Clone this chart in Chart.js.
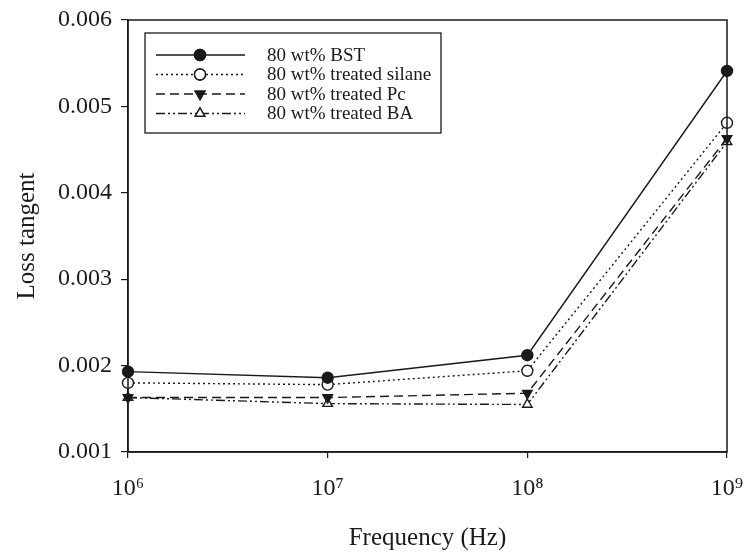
<!DOCTYPE html>
<html lang="en">

<head>
    <meta charset="UTF-8">
    <title>Loss tangent</title>
    <style>
        * {
            margin: 0;
            padding: 0;
        }

        body {
            background: #fff;
        }
    </style>
</head>

<body>
    <canvas id="myChart" width="747" height="553" style="width:747px;height:553px;"></canvas>
</body>
<script src="https://cdn.jsdelivr.net/npm/chart.js@4/dist/chart.umd.min.js"></script>

<script>
    const freq = [1e6, 1e7, 1e8, 1e9];
    const xTicks = ['10⁶', '10⁷', '10⁸', '10⁹'];
    const yTicks = [0.001, 0.002, 0.003, 0.004, 0.005, 0.006];

    const seriesNames = ['80 wt% BST', '80 wt% treated silane', '80 wt% treated Pc', '80 wt% treated BA'];
    const bst = [0.00193, 0.00186, 0.00212, 0.00541];
    const silane = [0.00180, 0.00178, 0.00194, 0.00481];
    const pc = [0.00163, 0.00163, 0.00168, 0.00463];
    const ba = [0.00163, 0.00156, 0.00155, 0.00459];

    const ink = '#1a1a1a';
    const serif = "'Liberation Serif', 'DejaVu Serif', serif";

    function pts(vals) {
        return vals.map((v, i) => ({ x: freq[i], y: v }));
    }

    // frame round the plot area + legend box with line samples
    const framePlugin = {
        id: 'frame',
        afterDatasetsDraw(chart) {
            const { ctx, chartArea: a } = chart;
            ctx.save();
            ctx.strokeStyle = ink;
            ctx.lineWidth = 1.5;
            ctx.strokeRect(a.left, a.top, a.right - a.left, a.bottom - a.top);

            const bx = 145, by = 33, bw = 296, bh = 100;
            ctx.lineWidth = 1.3;
            ctx.strokeRect(bx, by, bw, bh);
            ctx.font = '19px ' + serif;
            ctx.textBaseline = 'middle';
            chart.data.datasets.forEach((ds, i) => {
                const y = by + 22 + i * 19.5;
                ctx.strokeStyle = ds.borderColor;
                ctx.lineWidth = ds.borderWidth;
                ctx.setLineDash(ds.borderDash || []);
                ctx.beginPath();
                ctx.moveTo(bx + 11, y);
                ctx.lineTo(bx + 100, y);
                ctx.stroke();
                ctx.setLineDash([]);
                Chart.helpers.drawPoint(ctx, {
                    pointStyle: ds.pointStyle,
                    rotation: ds.pointRotation || 0,
                    radius: ds.pointRadius,
                    borderWidth: ds.pointBorderWidth
                }, bx + 55, y);
                ctx.fillStyle = ds.pointBackgroundColor;
                ctx.strokeStyle = ds.pointBorderColor;
                ctx.lineWidth = ds.pointBorderWidth;
                ctx.fill();
                ctx.stroke();
                ctx.fillStyle = ink;
                ctx.fillText(ds.label, bx + 122, y + 1);
            });
            ctx.restore();
        }
    };

    function series(label, vals, dash, style, fill, rot) {
        return {
            label: label,
            data: pts(vals),
            borderColor: ink,
            borderWidth: 1.4,
            borderDash: dash,
            pointStyle: style,
            pointRotation: rot || 0,
            pointRadius: 5.5,
            pointHoverRadius: 5.5,
            pointBackgroundColor: fill,
            pointBorderColor: ink,
            pointBorderWidth: 1.4,
            clip: false,
            tension: 0
        };
    }

    new Chart('myChart', {
        type: 'line',
        data: {
            datasets: [
                series(seriesNames[0], bst, [], 'circle', ink),
                series(seriesNames[1], silane, [2, 3], 'circle', '#fff'),
                series(seriesNames[2], pc, [9, 5], 'triangle', ink, 180),
                series(seriesNames[3], ba, [9, 3, 2, 3, 2, 3], 'triangle', '#fff')
            ]
        },
        options: {
            responsive: false,
            animation: false,
            layout: { padding: { top: 20, right: 20 } },
            plugins: {
                legend: { display: false },
                tooltip: { enabled: false }
            },
            scales: {
                x: {
                    type: 'logarithmic',
                    min: 1e6,
                    max: 1e9,
                    afterBuildTicks(scale) {
                        scale.ticks = freq.map(v => ({ value: v }));
                    },
                    afterFit(scale) {
                        scale.height = 101;
                        scale.paddingLeft = 0;
                        scale.paddingRight = 0;
                    },
                    border: { display: true, color: ink, width: 1.5 },
                    grid: { drawOnChartArea: false, drawTicks: true, tickLength: 6, color: ink, lineWidth: 1.2 },
                    ticks: {
                        autoSkip: false,
                        maxRotation: 0,
                        padding: 16,
                        color: ink,
                        font: { family: serif, size: 24 },
                        callback: (v) => xTicks[freq.indexOf(v)] || ''
                    },
                    title: {
                        display: true,
                        text: 'Frequency (Hz)',
                        color: ink,
                        font: { family: serif, size: 25 },
                        padding: { top: 0, bottom: 0 }
                    }
                },
                y: {
                    min: 0.001,
                    max: 0.006,
                    afterBuildTicks(scale) {
                        scale.ticks = yTicks.map(v => ({ value: v }));
                    },
                    afterFit(scale) {
                        scale.width = 128;
                        scale.paddingTop = 0;
                        scale.paddingBottom = 0;
                    },
                    border: { display: true, color: ink, width: 1.5 },
                    grid: { drawOnChartArea: false, drawTicks: true, tickLength: 7, color: ink, lineWidth: 1.2 },
                    ticks: {
                        padding: 9,
                        color: ink,
                        font: { family: serif, size: 24 },
                        callback: (v) => v.toFixed(3)
                    },
                    title: {
                        display: true,
                        text: 'Loss tangent',
                        color: ink,
                        font: { family: serif, size: 25 },
                        padding: { top: 12, bottom: 0 }
                    }
                }
            }
        },
        plugins: [framePlugin]
    });
</script>

</html>
